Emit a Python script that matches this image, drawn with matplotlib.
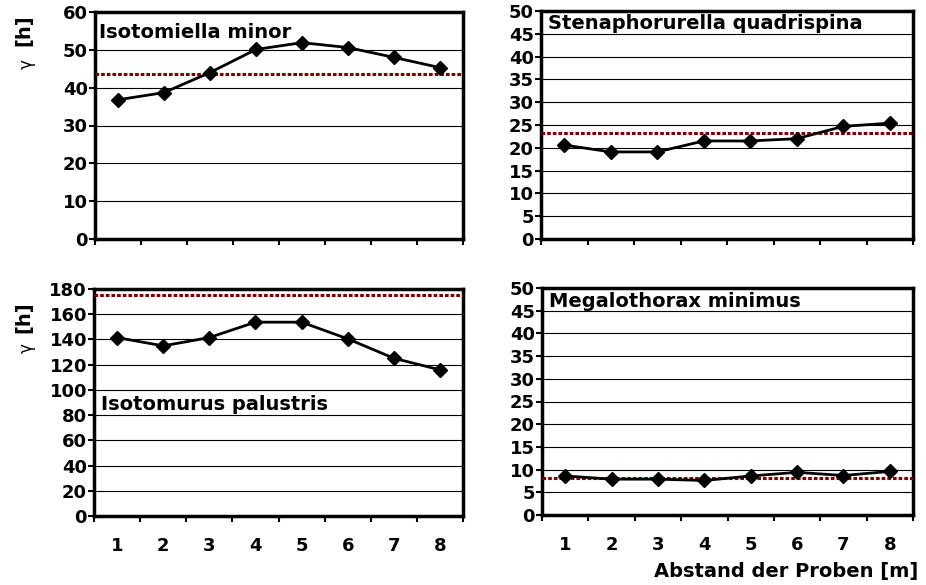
#!/usr/bin/env python3
"""Generation time gamma of four Collembola species along the sampling transect."""

import matplotlib
matplotlib.use('Agg')
import matplotlib.pyplot as plt
from matplotlib.ticker import FixedLocator, MultipleLocator

plt.rcParams['font.family'] = ['DejaVu Sans']
plt.rcParams['font.weight'] = 'bold'

# Sample positions along the transect
positions = [1, 2, 3, 4, 5, 6, 7, 8]
position_labels = ['1', '2', '3', '4', '5', '6', '7', '8']

# Generation time per sample [h]
isotomiella = [36.8, 38.7, 44.0, 50.1, 51.9, 50.6, 48.0, 45.3]
stenaphorurella = [20.6, 19.1, 19.1, 21.5, 21.5, 22.0, 24.7, 25.4]
isotomurus = [141.5, 134.9, 141.5, 153.7, 153.7, 140.5, 125.1, 115.9]
megalothorax = [8.6, 7.9, 7.9, 7.6, 8.6, 9.4, 8.7, 9.6]

# Reference level for each species [h]
isotomiella_ref = 43.6
stenaphorurella_ref = 23.2
isotomurus_ref = 175.0
megalothorax_ref = 8.1

W, H = 926, 585


def px_box(left, top, right, bottom):
    return [left / W, (H - bottom) / H, (right - left) / W, (bottom - top) / H]


fig = plt.figure(figsize=(W / 100, H / 100), dpi=100)
fig.patch.set_facecolor('white')

panels = [
    # name, values, ref, ymax, ystep, box, show x labels, title position (axes frac)
    ('Isotomiella minor', isotomiella, isotomiella_ref, 60, 10,
     px_box(95, 12, 463, 239), False, (0.012, 0.91)),
    ('Stenaphorurella quadrispina', stenaphorurella, stenaphorurella_ref, 50, 5,
     px_box(541, 11, 913, 239), False, (0.018, 0.945)),
    ('Isotomurus palustris', isotomurus, isotomurus_ref, 180, 20,
     px_box(94, 289, 463, 516), True, (0.018, 0.49)),
    ('Megalothorax minimus', megalothorax, megalothorax_ref, 50, 5,
     px_box(542, 288, 913, 515), True, (0.018, 0.94)),
]

for name, vals, ref, ymax, ystep, box, show_x, tpos in panels:
    ax = fig.add_axes(box)
    ax.set_xlim(0.5, 8.5)
    ax.set_ylim(0, ymax)
    ax.yaxis.set_major_locator(MultipleLocator(ystep))
    ax.grid(axis='y', color='black', linewidth=0.8)
    ax.set_axisbelow(True)

    # category boundaries carry the tick marks, labels sit at the centres
    ax.xaxis.set_major_locator(FixedLocator([p - 0.5 for p in positions] + [8.5]))
    ax.xaxis.set_major_formatter(plt.NullFormatter())
    ax.xaxis.set_minor_locator(FixedLocator(positions))
    if show_x:
        ax.set_xticklabels(position_labels, minor=True)
    ax.tick_params(axis='x', which='minor', length=0, labelsize=13, pad=15)
    ax.tick_params(axis='x', which='major', length=4, width=1.5, direction='out')
    ax.tick_params(axis='y', length=4, width=1.5, direction='out', labelsize=13, pad=1)
    for lbl in ax.get_yticklabels() + ax.get_xticklabels(minor=True):
        lbl.set_fontweight('bold')

    for side in ['left', 'right', 'top', 'bottom']:
        ax.spines[side].set_linewidth(2.5)
        ax.spines[side].set_color('black')

    ax.axhline(ref, color='#800000', linestyle=(0, (1.2, 0.65)), linewidth=2.2, zorder=3)
    ax.plot(positions, vals, color='black', linewidth=2, marker='D',
            markersize=7, markerfacecolor='black', zorder=4, clip_on=False)

    ax.text(tpos[0], tpos[1], name, transform=ax.transAxes, fontsize=14,
            fontweight='bold', ha='left', va='center', zorder=5)

# y axis labels: regular gamma, bold unit
for gy, hy in [(64, 30), (348, 317)]:
    fig.text(27 / W, 1 - gy / H, 'γ', rotation=90, fontsize=12,
             fontweight='normal', ha='center', va='center')
    fig.text(24 / W, 1 - hy / H, '[h]', rotation=90, fontsize=14,
             fontweight='bold', ha='center', va='center')

fig.text(918 / W, 1 - 572 / H, 'Abstand der Proben [m]', fontsize=14,
         fontweight='bold', ha='right', va='center')

fig.savefig('out.png', dpi=100, facecolor='white')
print("Saved: out.png")
